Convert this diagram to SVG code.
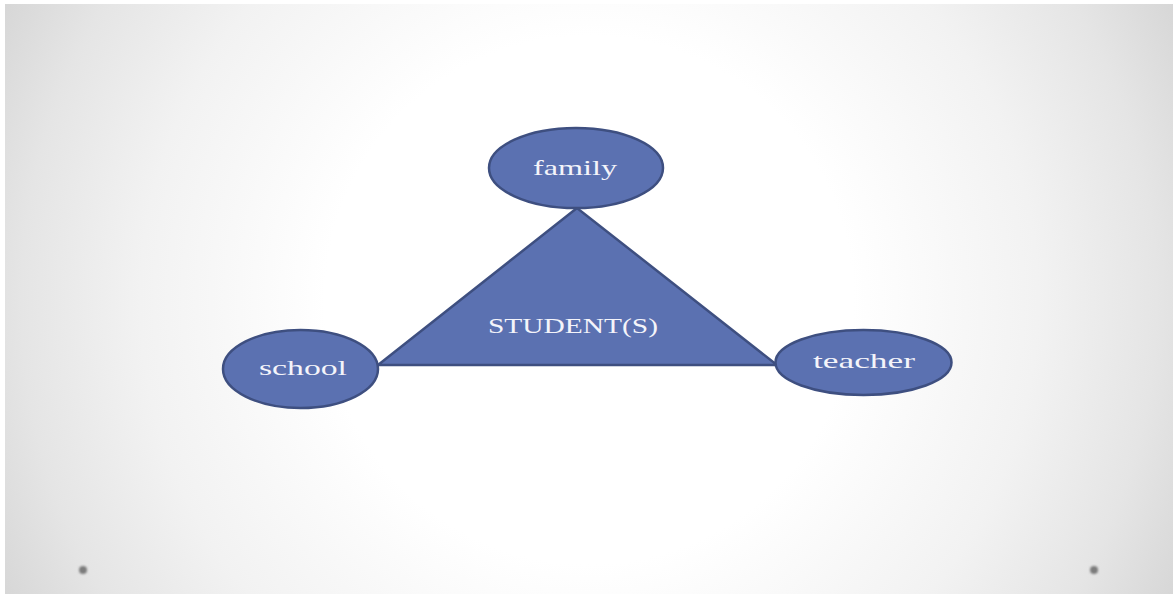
<svg xmlns="http://www.w3.org/2000/svg" width="1173" height="594" viewBox="0 0 1173 594">
  <defs>
    <radialGradient id="bg" gradientUnits="userSpaceOnUse" cx="589" cy="300" r="660">
      <stop offset="0" stop-color="#ffffff"/>
      <stop offset="0.4" stop-color="#ffffff"/>
      <stop offset="0.68" stop-color="#f2f2f2"/>
      <stop offset="0.86" stop-color="#e5e5e5"/>
      <stop offset="1" stop-color="#d6d6d6"/>
    </radialGradient>
    <filter id="soft" x="-1" y="-1" width="3" height="3">
      <feGaussianBlur stdDeviation="1.2"/>
    </filter>
  </defs>
  <style>
    .shape { fill: #5b71b1; stroke: #3e4f80; stroke-width: 2.5; }
    .label { font-family: "Liberation Serif", "Times New Roman", serif; font-size: 22px; fill: #f4f4fa; }
    .dot { fill: #7c7c7c; filter: url(#soft); }
  </style>

  <!-- page background -->
  <rect x="0" y="0" width="1173" height="594" fill="#ffffff"/>
  <rect x="5" y="4" width="1168" height="590" fill="url(#bg)"/>
  <circle class="dot" cx="83" cy="570" r="4"/>
  <circle class="dot" cx="1094" cy="570" r="4"/>

  <g id="student">
    <polygon class="shape" points="577,208 378,365 777,365"/>
    <text class="label" x="488" y="333" textLength="170" lengthAdjust="spacingAndGlyphs">STUDENT(S)</text>
  </g>

  <g id="family">
    <ellipse class="shape" cx="576" cy="168" rx="87" ry="40"/>
    <text class="label" x="533" y="175" textLength="84" lengthAdjust="spacingAndGlyphs">family</text>
  </g>

  <g id="school">
    <ellipse class="shape" cx="300.5" cy="369" rx="77.5" ry="39"/>
    <text class="label" x="259" y="375" textLength="88" lengthAdjust="spacingAndGlyphs">school</text>
  </g>

  <g id="teacher">
    <ellipse class="shape" cx="863.5" cy="362.5" rx="88" ry="32.5"/>
    <text class="label" x="813" y="368" textLength="102" lengthAdjust="spacingAndGlyphs">teacher</text>
  </g>
</svg>
